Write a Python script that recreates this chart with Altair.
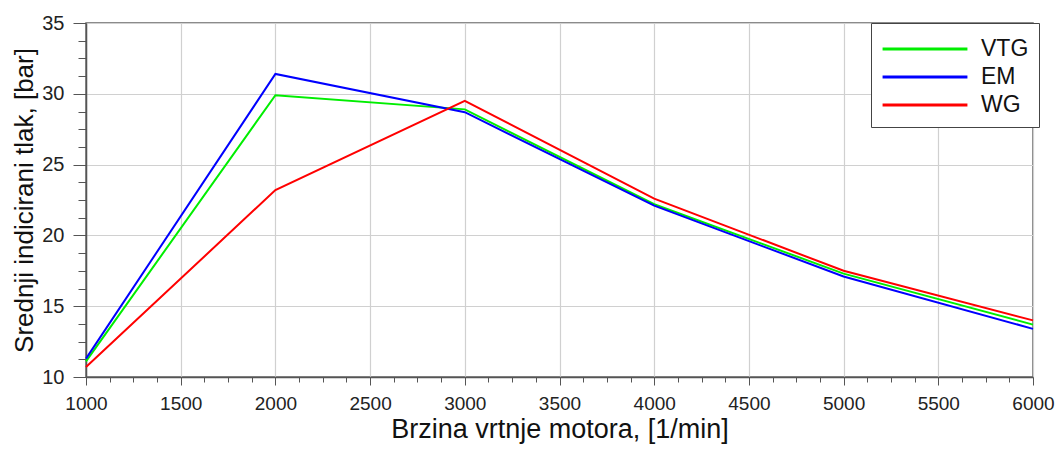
import altair as alt
import pandas as pd

rpm = [1000, 2000, 3000, 4000, 5000, 6000]
vtg = [11.1, 29.9, 28.9, 22.2, 17.3, 13.7]
em = [11.3, 31.4, 28.7, 22.1, 17.1, 13.4]
wg = [10.7, 23.2, 29.5, 22.6, 17.5, 14.0]

series = ["VTG", "EM", "WG"]
colors = ["#00ee00", "#0000ff", "#ff0000"]

x_ticks = [1000 + 125 * i for i in range(41)]
y_ticks = [10 + 1.25 * i for i in range(21)]

rows = []
for name, vals in zip(series, [vtg, em, wg]):
    for r, v in zip(rpm, vals):
        rows.append({"rpm": r, "p": v, "serija": name})
df = pd.DataFrame(rows)

FONT = "Liberation Sans"

chart = alt.Chart(df).mark_line(strokeWidth=2).encode(
    x=alt.X("rpm:Q",
            scale=alt.Scale(domain=[1000, 6000], nice=False, zero=False),
            axis=alt.Axis(values=x_ticks, format="d",
                          labelExpr="datum.value % 500 === 0 ? datum.label : ''",
                          tickSize={"condition": {"test": "datum.value % 500 === 0", "value": 8}, "value": 5},
                          gridOpacity={"condition": {"test": "datum.value % 500 === 0", "value": 1}, "value": 0},
                          title="Brzina vrtnje motora, [1/min]",
                          titleFontSize=27, titleFont=FONT, titleFontWeight="normal",
                          titleColor="#111", titlePadding=3,
                          labelFontSize=19, labelFont=FONT, labelColor="#222",
                          labelPadding=9, labelFlush=False, labelOverlap=False,
                          domainColor="#555", domainWidth=1.5, tickColor="#555",
                          gridColor="#d0d0d0", gridWidth=1.2)),
    y=alt.Y("p:Q",
            scale=alt.Scale(domain=[10, 35], nice=False, zero=False),
            axis=alt.Axis(values=y_ticks,
                          labelExpr="datum.value % 5 === 0 ? datum.label : ''",
                          tickSize={"condition": {"test": "datum.value % 5 === 0", "value": 13}, "value": 8},
                          gridOpacity={"condition": {"test": "datum.value % 5 === 0", "value": 1}, "value": 0},
                          title="Srednji indicirani tlak, [bar]",
                          titleFontSize=26, titleFont=FONT, titleFontWeight="normal",
                          titleColor="#111", titlePadding=4,
                          labelFontSize=20, labelFont=FONT, labelColor="#222",
                          labelPadding=9, labelFlush=False, labelOverlap=False,
                          domainColor="#555", domainWidth=1.5, tickColor="#555",
                          gridColor="#d0d0d0", gridWidth=1.2)),
    color=alt.Color("serija:N",
                    scale=alt.Scale(domain=series, range=colors),
                    sort=series,
                    legend=alt.Legend(title=None, orient="none", legendX=785, legendY=0,
                                      symbolType="M-3,0H3", symbolSize=800, symbolStrokeWidth=3,
                                      symbolOffset=28,
                                      labelFontSize=23, labelFont=FONT, labelColor="#111",
                                      strokeColor="#444", padding=10, rowPadding=0,
                                      fillColor="white", labelOffset=40)),
).properties(
    width=947, height=354,
    autosize=alt.AutoSizeParams(type="none"),
    padding={"left": 78, "top": 15, "right": 22, "bottom": 72},
).configure_view(stroke="#666", strokeWidth=1.5)

chart.save("out.html", embed_options={"renderer": "svg", "actions": False})
